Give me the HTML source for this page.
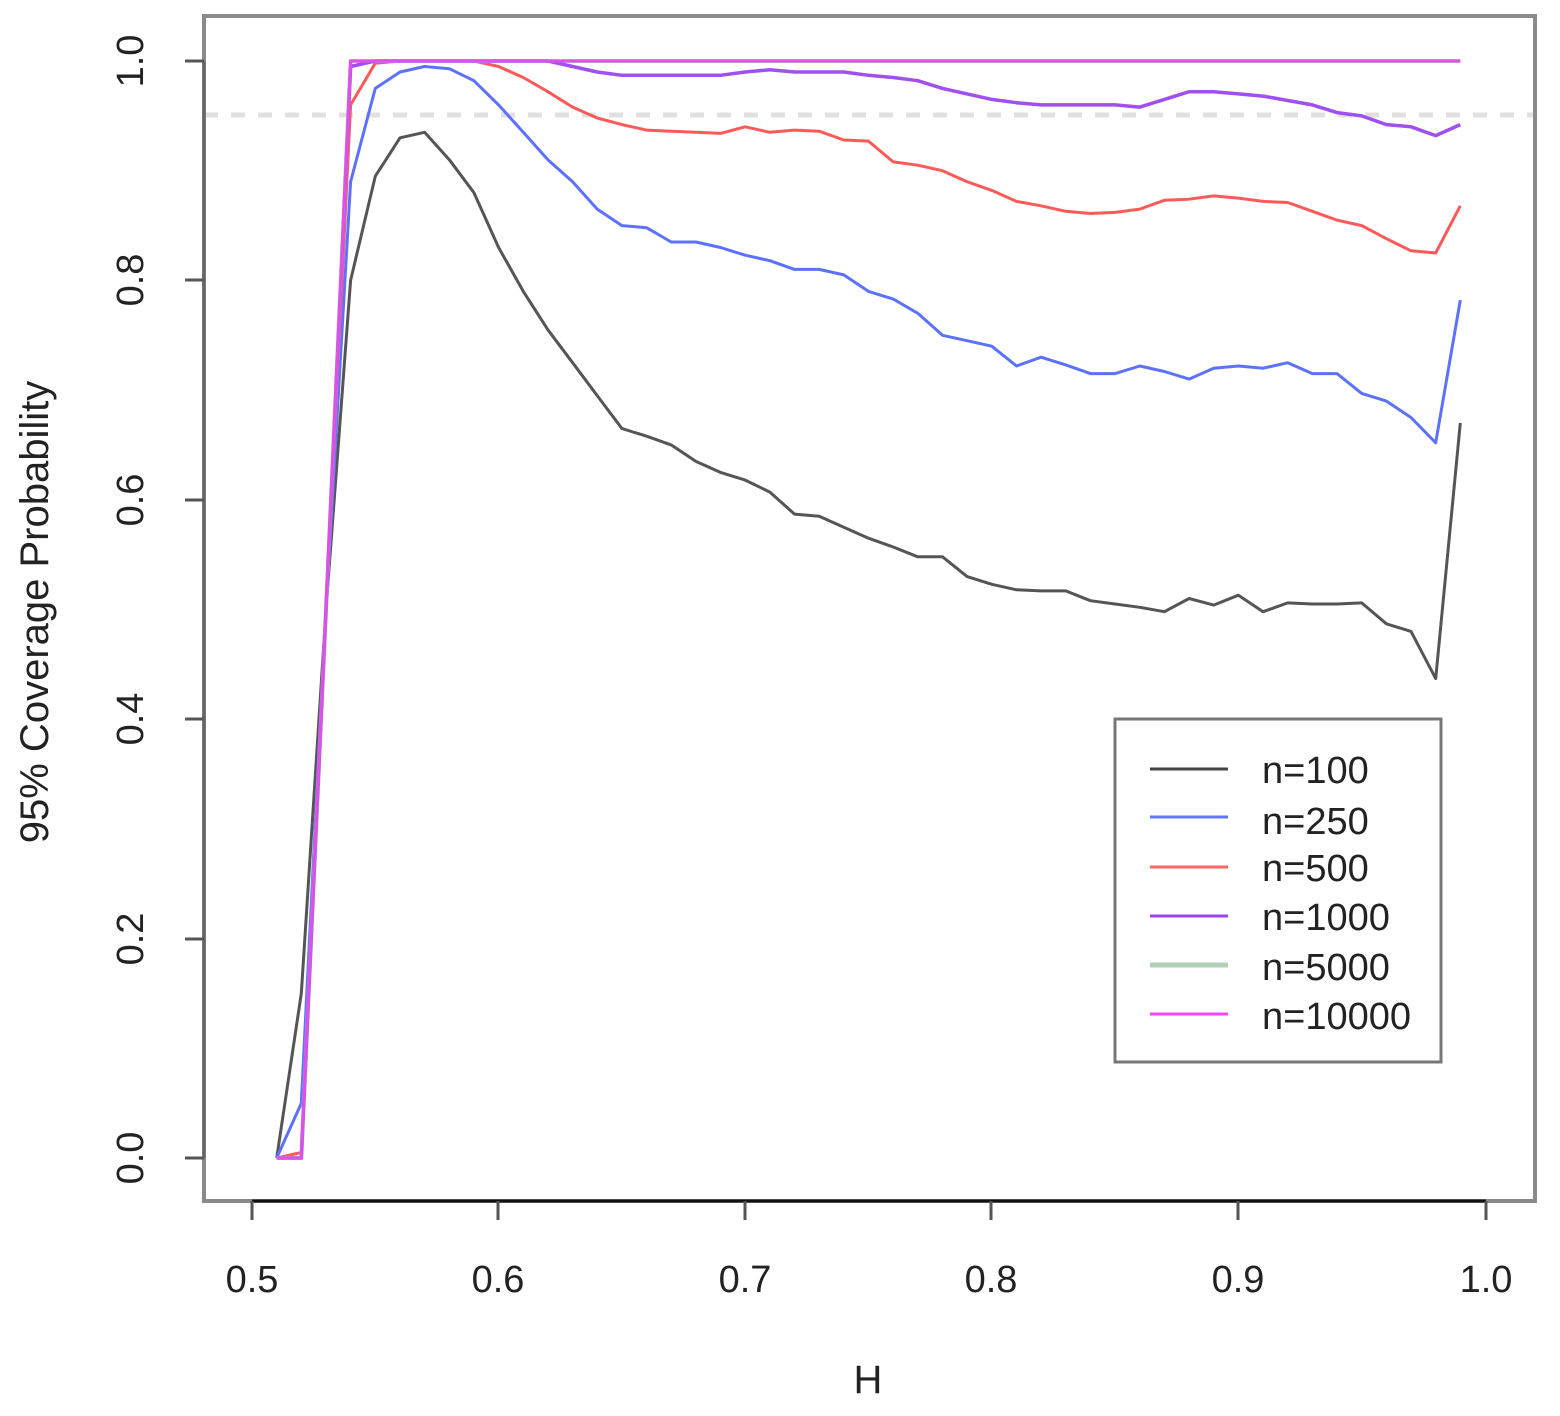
<!DOCTYPE html>
<html><head><meta charset="utf-8"><style>body{margin:0;background:#fff}svg{display:block}text{font-family:"Liberation Sans",sans-serif;fill:#222}</style></head>
<body>
<svg id="s" width="1560" height="1416" viewBox="0 0 1560 1416" xmlns="http://www.w3.org/2000/svg">
<rect x="0" y="0" width="1560" height="1416" fill="#fff"/>
<line x1="204" y1="115" x2="1535" y2="115" stroke="#e0e0e0" stroke-width="5" stroke-dasharray="14 13"/>
<g id="series" fill="none" stroke-width="3" stroke-linejoin="round"></g>
<rect x="204" y="16" width="1331" height="1185" fill="none" stroke="#8a8a8a" stroke-width="4"/>
<g stroke="#555" stroke-width="3">
<line x1="252" y1="1201" x2="1486" y2="1201" stroke="#111"/>
<line x1="252" y1="1201" x2="252" y2="1220"/><line x1="498" y1="1201" x2="498" y2="1220"/><line x1="745" y1="1201" x2="745" y2="1220"/><line x1="991" y1="1201" x2="991" y2="1220"/><line x1="1238" y1="1201" x2="1238" y2="1220"/><line x1="1486" y1="1201" x2="1486" y2="1220"/>
<line x1="204" y1="61" x2="204" y2="1158" stroke="#666"/>
<line x1="185" y1="61" x2="204" y2="61"/><line x1="185" y1="280" x2="204" y2="280"/><line x1="185" y1="500" x2="204" y2="500"/><line x1="185" y1="719" x2="204" y2="719"/><line x1="185" y1="939" x2="204" y2="939"/><line x1="185" y1="1158" x2="204" y2="1158"/>
</g>
<g font-size="38" text-anchor="middle">
<text x="252" y="1292">0.5</text><text x="498" y="1292">0.6</text><text x="745" y="1292">0.7</text><text x="991" y="1292">0.8</text><text x="1238" y="1292">0.9</text><text x="1486" y="1292">1.0</text>
<text transform="translate(143,61) rotate(-90)">1.0</text>
<text transform="translate(143,280) rotate(-90)">0.8</text>
<text transform="translate(143,500) rotate(-90)">0.6</text>
<text transform="translate(143,719) rotate(-90)">0.4</text>
<text transform="translate(143,939) rotate(-90)">0.2</text>
<text transform="translate(143,1158) rotate(-90)">0.0</text>
<text x="868" y="1393" font-size="40">H</text>
<text transform="translate(48,612) rotate(-90)" font-size="40">95% Coverage Probability</text>
</g>
<rect x="1115" y="719" width="326" height="343" fill="#fff" stroke="#777" stroke-width="3"/>
<g stroke-width="3">
<line x1="1150" y1="769" x2="1228" y2="769" stroke="#444"/>
<line x1="1150" y1="817" x2="1228" y2="817" stroke="#6677ff"/>
<line x1="1150" y1="867" x2="1228" y2="867" stroke="#ff6666"/>
<line x1="1150" y1="916" x2="1228" y2="916" stroke="#9944ee"/>
<line x1="1150" y1="965" x2="1228" y2="965" stroke="#b0d0b8" stroke-width="5"/>
<line x1="1150" y1="1014" x2="1228" y2="1014" stroke="#ff44ff"/>
</g>
<g font-size="38">
<text x="1262" y="783">n=100</text><text x="1262" y="834">n=250</text><text x="1262" y="881">n=500</text><text x="1262" y="930">n=1000</text><text x="1262" y="980">n=5000</text><text x="1262" y="1029">n=10000</text>
</g>
</svg>
<script>
var B=[0,.15,.5,.8,.895,.93,.935,.91,.88,.83,.79,.755,.725,.695,.665,.658,.65,.635,.625,.618,.607,.587,.585,.575,.565,.557,.548,.548,.53,.523,.518,.517,.517,.508,.505,.502,.498,.51,.504,.513,.498,.506,.505,.505,.506,.487,.48,.437,.67];
var U=[0,.05,.5,.89,.975,.99,.995,.993,.982,.96,.935,.91,.89,.865,.85,.848,.835,.835,.83,.823,.818,.81,.81,.805,.79,.783,.77,.75,.745,.74,.722,.73,.723,.715,.715,.722,.717,.71,.72,.722,.72,.725,.715,.715,.697,.69,.675,.652,.782];
var R=[0,.005,.5,.96,.998,1,1,1,1,.995,.985,.972,.958,.948,.942,.937,.936,.935,.934,.94,.935,.937,.936,.928,.927,.908,.905,.9,.89,.882,.872,.868,.863,.861,.862,.865,.873,.874,.877,.875,.872,.871,.863,.855,.85,.838,.827,.825,.868];
var P=[0,0,.5,.995,1,1,1,1,1,1,1,1,.995,.99,.987,.987,.987,.987,.987,.99,.992,.99,.99,.99,.987,.985,.982,.975,.97,.965,.962,.96,.96,.96,.96,.958,.965,.972,.972,.97,.968,.964,.96,.953,.95,.942,.94,.932,.942];
var M=[0,0,.5,1];for(var i=4;i<49;i++)M.push(1);
function pl(a,c,w){var p=a.map(function(v,i){var h=.51+i*.01;return (252+(h-.5)*2466).toFixed(1)+','+(1158-v*1097).toFixed(1)}).join(' ');
var e=document.createElementNS('http://www.w3.org/2000/svg','polyline');e.setAttribute('points',p);e.setAttribute('stroke',c);if(w)e.setAttribute('stroke-width',w);document.getElementById('series').appendChild(e);}
pl(B,'#555');pl(U,'#5c72ff');pl(R,'#ff5a5a');pl(M,'#b0d0b8',4);pl(P,'#a050f0',3.5);pl(M,'#e050e8',3);
</script>
</body></html>
